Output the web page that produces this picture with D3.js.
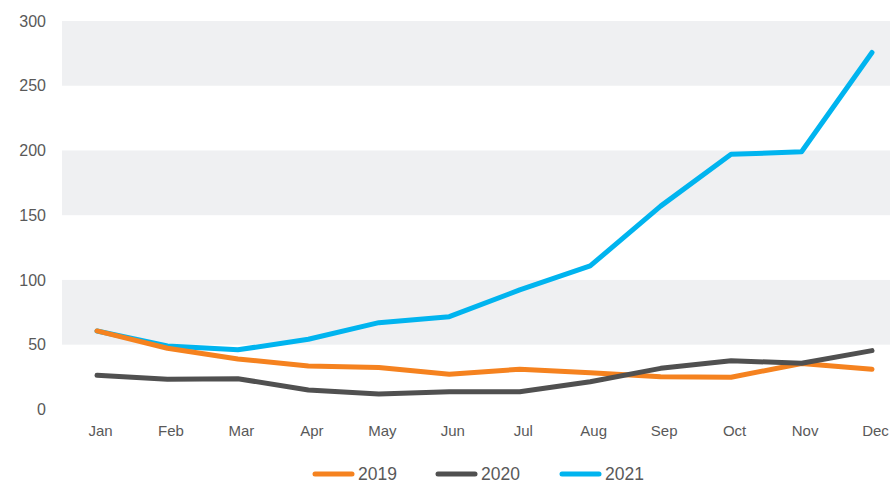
<!DOCTYPE html>
<html>
<head>
<meta charset="utf-8">
<script src="https://cdn.jsdelivr.net/npm/d3@7/dist/d3.min.js"></script>
<style>
  html, body { margin: 0; padding: 0; background: #fff; }
  svg { display: block; font-family: "Liberation Sans", Arial, Helvetica, sans-serif; }
</style>
</head>
<body>
<svg id="chart" width="890" height="483"></svg>
<script>
// Monthly values per year
const months = ["Jan", "Feb", "Mar", "Apr", "May", "Jun", "Jul", "Aug", "Sep", "Oct", "Nov", "Dec"];
const values2019 = [60.6, 47.2, 39, 33.5, 32.3, 27.1, 31, 28.4, 25.3, 24.8, 35.5, 31];
const values2020 = [26.3, 23.2, 23.7, 15, 11.9, 13.7, 13.7, 21.4, 31.7, 37.6, 35.6, 45.4];
const values2021 = [60.6, 49, 46, 54.2, 67, 71.6, 92.3, 110.8, 157, 197, 199, 275.7];
const yTicks = [0, 50, 100, 150, 200, 250, 300];
const seriesNames = ["2019", "2020", "2021"];
const seriesColors = ["#f5821f", "#505050", "#00b4ef"];

const series = [values2019, values2020, values2021].map((vals, i) => ({
  name: seriesNames[i], color: seriesColors[i], values: vals
}));
// 2021 sits underneath, then 2019, with 2020 on top
const drawOrder = [series[2], series[0], series[1]];

const svg = d3.select("#chart");
const plotLeft = 62, plotRight = 890;

const x = d3.scalePoint().domain(months).range([97, 872]);
const y = d3.scaleLinear().domain([0, 300]).range([409.4, 21]);

// Alternating horizontal bands
const bandStarts = [50, 150, 250];
svg.append("g").selectAll("rect").data(bandStarts).join("rect")
  .attr("x", plotLeft)
  .attr("width", plotRight - plotLeft)
  .attr("y", d => y(d + 50))
  .attr("height", d => y(d) - y(d + 50))
  .attr("fill", "#eff0f2");

// Y axis labels
const yAxis = d3.axisLeft(y).tickValues(yTicks).tickSize(0).tickPadding(0);
const gy = svg.append("g").attr("transform", "translate(46,0)").call(yAxis);
gy.select(".domain").remove();
gy.selectAll("text")
  .attr("fill", "#595959")
  .attr("font-size", "16px")
  .attr("font-family", "\"Liberation Sans\", Arial, sans-serif");

// X axis labels
const xAxis = d3.axisBottom(x).tickSize(0).tickPadding(0);
const gx = svg.append("g").attr("transform", "translate(3,425)").call(xAxis);
gx.select(".domain").remove();
gx.selectAll("text")
  .attr("fill", "#595959")
  .attr("font-size", "15px")
  .attr("font-family", "\"Liberation Sans\", Arial, sans-serif");

// Lines
const line = d3.line()
  .x((d, i) => x(months[i]))
  .y(d => y(d));

svg.append("g").selectAll("path").data(drawOrder).join("path")
  .attr("d", d => line(d.values))
  .attr("fill", "none")
  .attr("stroke", d => d.color)
  .attr("stroke-width", 5)
  .attr("stroke-linejoin", "round")
  .attr("stroke-linecap", "round");

// Legend
const legendX = [315, 438, 562];
const legend = svg.append("g").selectAll("g").data(series).join("g")
  .attr("transform", (d, i) => `translate(${legendX[i]},474)`);
legend.append("line")
  .attr("x1", 0).attr("x2", 37)
  .attr("stroke", d => d.color)
  .attr("stroke-width", 5)
  .attr("stroke-linecap", "round");
legend.append("text")
  .attr("x", 43).attr("y", 6)
  .attr("fill", "#595959")
  .attr("font-size", "17.5px")
  .text(d => d.name);
</script>
</body>
</html>
